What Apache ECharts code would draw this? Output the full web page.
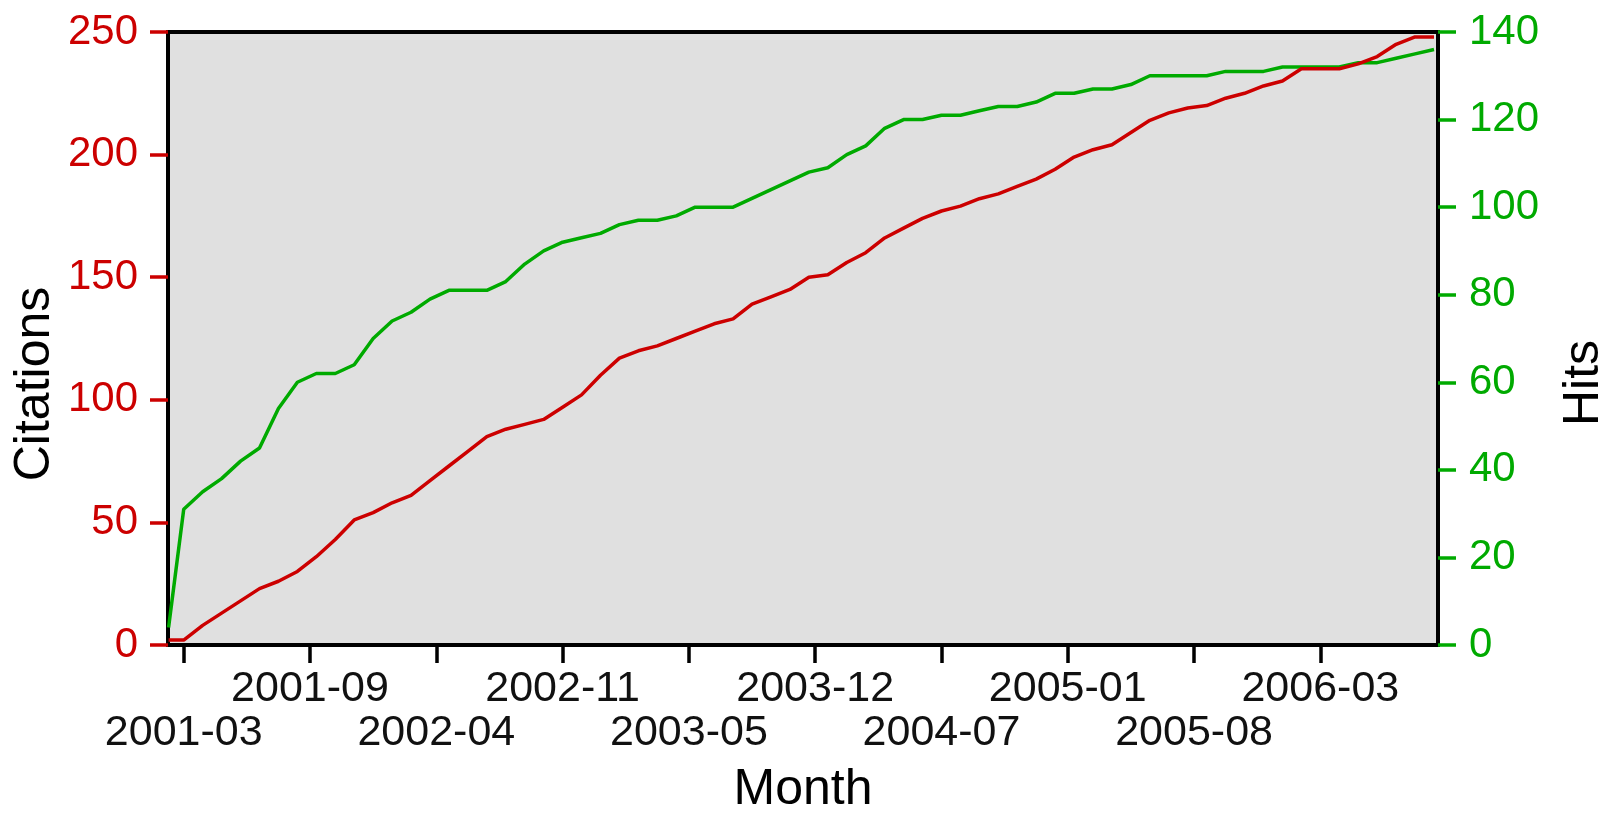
<!DOCTYPE html>
<html>
<head>
<meta charset="utf-8">
<script src="https://cdn.jsdelivr.net/npm/echarts@6/dist/echarts.min.js"></script>
<style>
html,body{margin:0;padding:0;background:#fff;}
#chart{width:1610px;height:813px;}
</style>
</head>
<body>
<div id="chart"></div>
<script>
// Month offsets from 2001-03 (first point sits at the left edge of the plot)
var xMonths = [-0.8, 0, 1, 2, 3, 4, 5, 6, 7, 8, 9, 10, 11, 12, 13, 14, 15, 16, 17, 18, 19,
  20, 21, 22, 23, 24, 25, 26, 27, 28, 29, 30, 31, 32, 33, 34, 35, 36, 37, 38, 39,
  40, 41, 42, 43, 44, 45, 46, 47, 48, 49, 50, 51, 52, 53, 54, 55, 56, 57, 58, 59,
  60, 61, 62, 63, 64, 65, 66];

var citations = [2, 2, 8, 13, 18, 23, 26, 30, 36, 43, 51, 54, 58, 61, 67, 73, 79, 85, 88, 90, 92,
  97, 102, 110, 117, 120, 122, 125, 128, 131, 133, 139, 142, 145, 150, 151, 156, 160, 166, 170, 174,
  177, 179, 182, 184, 187, 190, 194, 199, 202, 204, 209, 214, 217, 219, 220, 223, 225, 228, 230, 235,
  235, 235, 237, 240, 245, 248, 248];

var hits = [4, 31, 35, 38, 42, 45, 54, 60, 62, 62, 64, 70, 74, 76, 79, 81, 81, 81, 83, 87, 90,
  92, 93, 94, 96, 97, 97, 98, 100, 100, 100, 102, 104, 106, 108, 109, 112, 114, 118, 120, 120,
  121, 121, 122, 123, 123, 124, 126, 126, 127, 127, 128, 130, 130, 130, 130, 131, 131, 131, 132, 132,
  132, 132, 133, 133, 134, 135, 136];

// Tick positions (months from 2001-03) and their labels; lower row / upper row alternate
var lowerTickMonths = [0, 13.3333, 26.6667, 40, 53.3333];
var lowerTickLabels = ['2001-03', '2002-04', '2003-05', '2004-07', '2005-08'];
var upperTickMonths = [6.6667, 20, 33.3333, 46.6667, 60];
var upperTickLabels = ['2001-09', '2002-11', '2003-12', '2005-01', '2006-03'];

var FONT = 'Liberation Sans, Arial, Helvetica, sans-serif';
var RED = '#cc0000';
var GREEN = '#00aa00';
var X_MIN = -0.83, X_MAX = 66.21;

var chart = echarts.init(document.getElementById('chart'), null, {renderer: 'canvas'});

function pairs(ys) {
  return xMonths.map(function (m, i) { return [m, ys[i]]; });
}
function labelFor(vals, labels) {
  return function (v) {
    var idx = 0, best = 1e9;
    for (var i = 0; i < vals.length; i++) {
      var d = Math.abs(vals[i] - v);
      if (d < best) { best = d; idx = i; }
    }
    return labels[idx];
  };
}
function xAxisDef(vals, labels, margin, extra) {
  var a = {
    type: 'value', position: 'bottom', offset: 0, gridIndex: 0,
    min: X_MIN, max: X_MAX,
    axisLine: {show: false, onZero: false},
    splitLine: {show: false},
    axisTick: {
      show: true, inside: false, length: 18,
      customValues: vals,
      lineStyle: {color: '#000', width: 3.5}
    },
    axisLabel: {
      show: true,
      customValues: vals,
      showMinLabel: true, showMaxLabel: true,
      margin: margin,
      fontFamily: FONT, fontSize: 43, lineHeight: 45, color: '#111',
      formatter: labelFor(vals, labels)
    }
  };
  for (var k in extra) a[k] = extra[k];
  return a;
}

chart.setOption({
  animation: false,
  backgroundColor: '#ffffff',
  grid: {
    left: 168, top: 32, width: 1270, height: 613,
    show: true,
    backgroundColor: '#e0e0e0',
    borderColor: '#000000',
    borderWidth: 4,
    containLabel: false,
    outerBoundsMode: 'none'
  },
  xAxis: [
    xAxisDef(upperTickMonths, upperTickLabels, 22, {
      name: 'Month',
      nameLocation: 'middle',
      nameGap: 120,
      nameTextStyle: {fontFamily: FONT, fontSize: 50, color: '#000'}
    }),
    xAxisDef(lowerTickMonths, lowerTickLabels, 66, {})
  ],
  yAxis: [
    {
      type: 'value', position: 'left',
      min: 0, max: 250, interval: 50,
      axisLine: {show: false, onZero: false},
      splitLine: {show: false},
      axisTick: {show: true, inside: false, length: 18, lineStyle: {color: RED, width: 3.5}},
      axisLabel: {margin: 30, fontFamily: FONT, fontSize: 42, color: RED}
    },
    {
      type: 'value', position: 'right',
      min: 0, max: 140, interval: 20,
      axisLine: {show: false, onZero: false},
      splitLine: {show: false},
      axisTick: {show: true, inside: false, length: 18, lineStyle: {color: GREEN, width: 3.5}},
      axisLabel: {margin: 31, fontFamily: FONT, fontSize: 42, color: GREEN}
    }
  ],
  graphic: [
    {
      type: 'text', x: 35, y: 384, rotation: Math.PI / 2,
      style: {text: 'Citations', font: '50px ' + FONT, fill: '#000', align: 'center', verticalAlign: 'middle'}
    },
    {
      type: 'text', x: 1584, y: 383, rotation: Math.PI / 2,
      style: {text: 'Hits', font: '50px ' + FONT, fill: '#000', align: 'center', verticalAlign: 'middle'}
    }
  ],
  series: [
    {
      type: 'line', name: 'Hits', xAxisIndex: 0, yAxisIndex: 1,
      data: pairs(hits),
      showSymbol: false, symbol: 'none',
      lineStyle: {color: GREEN, width: 3.5},
      z: 3
    },
    {
      type: 'line', name: 'Citations', xAxisIndex: 0, yAxisIndex: 0,
      data: pairs(citations),
      showSymbol: false, symbol: 'none',
      lineStyle: {color: RED, width: 3.5},
      z: 4
    }
  ]
});
</script>
</body>
</html>
